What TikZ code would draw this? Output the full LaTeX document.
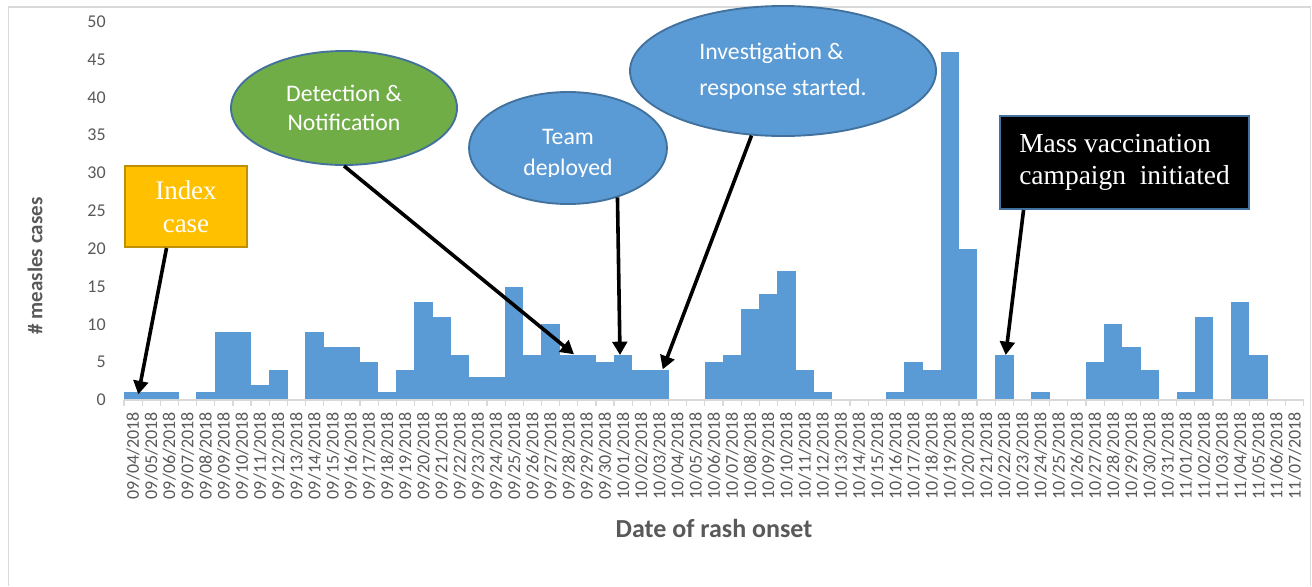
\documentclass[tikz,border=0pt]{standalone}
\usepackage{fontspec}
\setmainfont{Carlito}
\newfontfamily\boxserif{Liberation Serif}
\usetikzlibrary{arrows.meta,shapes.geometric,calc}
\definecolor{barblue}{HTML}{5B9BD5}
\definecolor{edgeblue}{HTML}{41719C}
\definecolor{leafgreen}{HTML}{70AD47}
\definecolor{goldfill}{HTML}{FFC000}
\definecolor{darkgold}{HTML}{BF9000}
\definecolor{axistext}{HTML}{595959}
\definecolor{axisline}{HTML}{D9D9D9}
\begin{document}
\begin{tikzpicture}[x=0.75pt,y=-0.75pt,
  ytick/.style={font=\fontsize{13.5}{16}\selectfont, text=axistext, anchor=east, inner sep=0},
  datelab/.style={font=\fontsize{13.5}{16}\selectfont, text=axistext, rotate=90, anchor=east, inner sep=0},
  axtitle/.style={font=\bfseries\fontsize{15.75}{19}\selectfont, text=axistext, inner sep=0},
  bubble/.style={ellipse, draw=edgeblue, line width=1.4pt, inner sep=0, text=white},
  bubbletext/.style={text=white, inner sep=0, font=\fontsize{17.8}{23.25}\selectfont, align=center},
  serifbox/.style={rectangle, inner sep=0, text=white},
  callarrow/.style={line width=2.7pt, -{Triangle[length=10pt,width=11pt]}}
]
\useasboundingbox (0,0) rectangle (1312,586);
% frame
\draw[axisline, line width=1.2pt] (8.5,586) -- (8.5,7) -- (1310.5,7) -- (1310.5,586);
% bars
\foreach \v [count=\i from 0] in {1,1,1,0,1,9,9,2,4,0,9,7,7,5,1,4,13,11,6,3,3,15,6,10,6,6,5,6,4,4,0,0,5,6,12,14,17,4,1,0,0,0,1,5,4,46,20,0,6,0,1,0,0,5,10,7,4,0,1,11,0,13,6,0,0}{
  \ifnum\v>0
    \fill[barblue] ({124+\i*18.15-0.15},400) rectangle ({124+(\i+1)*18.15+0.15},{400-\v*7.566});
  \fi
}
% axis
\draw[axisline, line width=0.9pt] (124,400) -- (1304,400);
\foreach \k in {0,...,65}{
  \draw[axisline, line width=0.9pt] ({124+\k*18.15},400) -- ({124+\k*18.15},406);
}
% y labels
\foreach \v in {0,5,...,50}{
  \node[ytick] (y\v) at (106,{400-\v*7.566}) {\v};
}
% date labels
\foreach \d in {4,...,30}{
  \pgfmathtruncatemacro\k{\d-4}
  \node[datelab] (dS\d) at ({124+(\k+0.5)*18.15},412) {09/\ifnum\d<10 0\fi\d/2018};
}
\foreach \d in {1,...,31}{
  \pgfmathtruncatemacro\k{\d+26}
  \node[datelab] (dO\d) at ({124+(\k+0.5)*18.15},412) {10/\ifnum\d<10 0\fi\d/2018};
}
\foreach \d in {1,...,7}{
  \pgfmathtruncatemacro\k{\d+57}
  \node[datelab] (dN\d) at ({124+(\k+0.5)*18.15},412) {11/0\d/2018};
}
% axis titles
\node[axtitle, rotate=90] (ytitle) at (35,266) {\# measles cases};
\node[axtitle, font=\bfseries\fontsize{19.5}{23}\selectfont] (xtitle) at (714,528) {Date of rash onset};

% callouts
\node[serifbox, fill=goldfill, draw=darkgold, line width=1.6pt, minimum width=91.5pt, minimum height=60.75pt, align=center, font=\boxserif\fontsize{20.2}{24.75}\selectfont] (idx) at (186,206.5) {Index\\case};
\node[serifbox, fill=black, draw=edgeblue, line width=1.6pt, minimum width=186.75pt, minimum height=69.75pt, align=left, font=\boxserif\fontsize{20.6}{23.8}\selectfont] (mv) at (1124.5,162.5) {Mass vaccination\\campaign\hspace{0.25em} initiated};
\node[bubble, fill=leafgreen, minimum width=169.5pt, minimum height=85.5pt, align=center, font=\fontsize{17.8}{21.75}\selectfont] (det) at (344,108) {Detection \&\\Notification};
\node[bubble, fill=barblue, minimum width=148.5pt, minimum height=84pt] (team) at (568,148) {};
\begin{scope}
  \clip (460,90) rectangle (680,176);
  \node[bubbletext] (teamtxt) at (568,154) {Team\\deployed};
\end{scope}
\node[bubble, fill=barblue, minimum width=229.5pt, minimum height=97.5pt, align=left, font=\fontsize{17.8}{27}\selectfont] (inv) at (783,71) {Investigation \&\\response started.};

% arrow targets
\coordinate (tIdx) at (138.3,394.3);
\coordinate (tDet) at (574,354.3);
\coordinate (tTeam) at (620,355);
\coordinate (tInv) at (662.7,369.3);
\coordinate (tMv) at (1005.7,355);

\draw[callarrow] ($(idx.south west)!0.343!(idx.south east)$) -- (tIdx);
\draw[callarrow] (det.south) -- (tDet);
\draw[callarrow] (team.-45) -- (tTeam);
\draw[callarrow] (inv.244) -- (tInv);
\draw[callarrow] ($(mv.south west)!0.098!(mv.south east)$) -- (tMv);
\end{tikzpicture}
\end{document}
